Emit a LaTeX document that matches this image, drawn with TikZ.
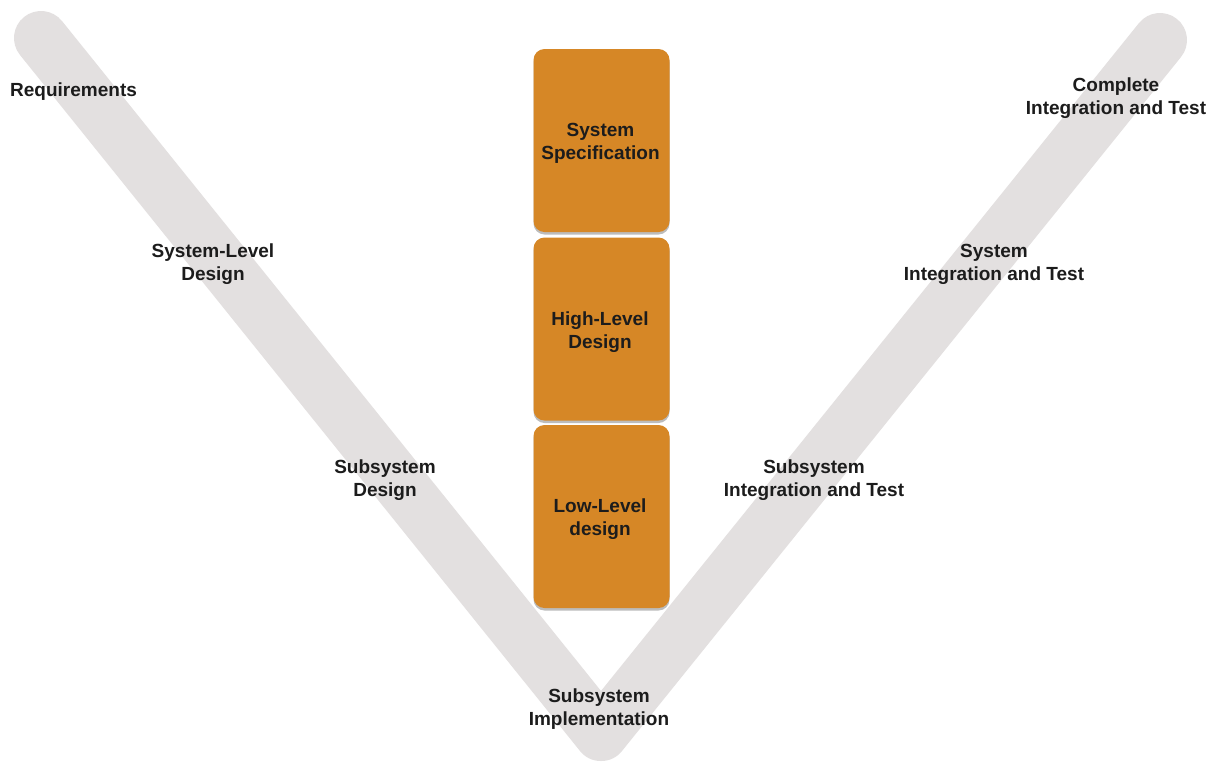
\documentclass[tikz,border=0pt]{standalone}
\usepackage{fontspec}
\setmainfont{Liberation Sans}
\usetikzlibrary{shadows}
\definecolor{vgray}{RGB}{227,224,224}
\definecolor{vorange}{RGB}{214,135,38}
\definecolor{txtc}{RGB}{28,28,28}
\begin{document}
\begin{tikzpicture}[x=1pt,y=-1pt,
  lbl/.style={font=\bfseries\fontsize{19}{23}\selectfont, text=txtc, align=center, inner sep=0pt},
  band/.style={draw=vgray, line width=54pt, line cap=round, line join=round},
  phasebox/.style={fill=vorange, rounded corners=11pt, minimum width=136pt, minimum height=183pt,
    inner sep=0pt,
    drop shadow={shadow xshift=0pt, shadow yshift=-2.5pt, opacity=0.35, fill=black!75}}]
\useasboundingbox (0,0) rectangle (1220,764);
\fill[white] (0,0) rectangle (1220,764);
% V band
\coordinate (tl) at (41,38);
\coordinate (bot) at (601,734);
\coordinate (tr) at (1160,40);
\draw[band] (tl) -- (bot) -- (tr);
% boxes
\node[phasebox] (spec) at (601.5,140.5) {};
\node[phasebox] (hld) at (601.5,329) {};
\node[phasebox] (lld) at (601.5,516.5) {};
\node[lbl] (spect) at ([yshift=-3pt,xshift=-1pt]spec.center) {System\\Specification};
\node[lbl] (hldt) at ([yshift=-3pt,xshift=-1.5pt]hld.center) {High-Level\\Design};
\node[lbl] (lldt) at ([yshift=-3pt,xshift=-1.5pt]lld.center) {Low-Level\\design};
% labels
\node[lbl, anchor=west] (req) at (10,92) {Requirements};
\node[lbl] (sld) at (213,264.5) {System-Level\\Design};
\node[lbl] (ssd) at (385,480.5) {Subsystem\\Design};
\node[lbl] (ssi) at (599,709.5) {Subsystem\\Implementation};
\node[lbl] (ssit) at (814,480.5) {Subsystem\\Integration and Test};
\node[lbl] (sit) at (994,264.5) {System\\Integration and Test};
\node[lbl] (cit) at (1116,98.5) {Complete\\Integration and Test};
\end{tikzpicture}
\end{document}
